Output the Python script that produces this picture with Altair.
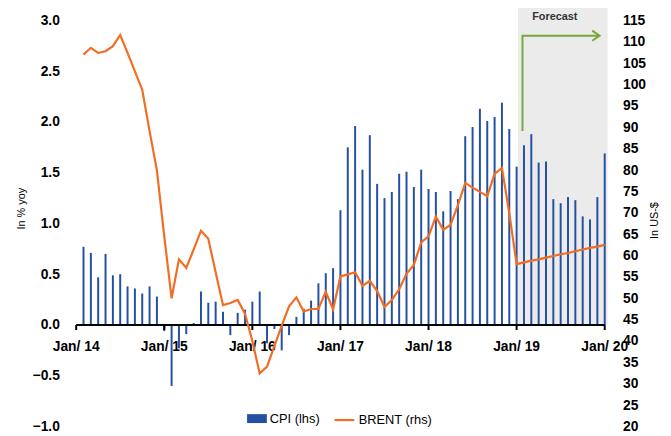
import altair as alt
import pandas as pd

# Months: Feb 2014 .. Jan 2020 (index 0 = Jan 2014)
months = [f"{y}-{m:02d}" for y in range(2014, 2021) for m in range(1, 13)]
months = months[1:73]

cpi = [0.77, 0.71, 0.47, 0.70, 0.49, 0.50, 0.38, 0.36, 0.31, 0.38, 0.28,
       -0.06, -0.60, -0.23, -0.09, 0.02, 0.33, 0.22, 0.23, 0.13, -0.10, 0.12, 0.15,
       0.23, 0.33, -0.18, -0.04, -0.25, -0.10, 0.08, 0.16, 0.24, 0.41, 0.51, 0.56,
       1.13, 1.75, 1.96, 1.53, 1.87, 1.39, 1.25, 1.31, 1.49, 1.51, 1.36, 1.53,
       1.34, 1.31, 1.12, 1.32, 1.24, 1.86, 1.95, 2.13, 2.01, 2.05, 2.19, 1.93,
       1.56, 1.77, 1.88, 1.60, 1.61, 1.24, 1.20, 1.26, 1.23, 1.07, 1.04, 1.26,
       1.69]

brent = [107.0, 108.6, 107.4, 107.8, 109.0, 111.6, 107.4, 103.1, 98.8, 89.1, 79.9,
         64.5, 50.0, 59.1, 57.1, 61.4, 65.8, 63.9, 56.1, 48.4, 48.9, 49.6, 46.4,
         40.0, 32.4, 34.0, 38.8, 43.6, 48.1, 50.2, 46.9, 47.5, 47.5, 51.5, 47.4,
         55.1, 55.6, 56.1, 52.9, 54.1, 51.7, 48.0, 49.6, 52.1, 55.7, 57.8, 63.1,
         64.5, 69.1, 66.0, 67.2, 71.8, 77.0, 75.9, 74.9, 73.9, 79.1, 80.5, 69.9,
         58.0, 58.4, 58.8, 59.1, 59.5, 59.9, 60.3, 60.6, 61.0, 61.4, 61.8, 62.1,
         62.5]

left_ticks = [-1.0, -0.5, 0.0, 0.5, 1.0, 1.5, 2.0, 2.5, 3.0]
right_ticks = list(range(20, 120, 5))
year_ticks = [0, 12, 24, 36, 48, 60, 72]
year_labels = ["Jan/ 14", "Jan/ 15", "Jan/ 16", "Jan/ 17", "Jan/ 18", "Jan/ 19", "Jan/ 20"]

BLUE = "#2450a4"
ORANGE = "#f26d21"
GREEN = "#78a83a"
FONT = "Liberation Sans"

def idx_of(m):
    y, mo = m.split("-")
    return (int(y) - 2014) * 12 + int(mo) - 1

df = pd.DataFrame({
    "month": months,
    "idx": [idx_of(m) for m in months],
    "cpi": cpi,
    "brent": brent,
    "cpi_s": "CPI (lhs)",
    "brent_s": "BRENT (rhs)",
})

W, H = 545, 411

xscale = alt.Scale(domain=[0, 72], nice=False, zero=False)
yleft_scale = alt.Scale(domain=[-1, 3], nice=False, zero=False)

# forecast shading
shade_df = pd.DataFrame({"x": [60.2], "x2": [72.4], "y": [3.15], "y2": [0.0]})
shade = alt.Chart(shade_df).mark_rect(color="#ebebeb").encode(
    x=alt.X("x:Q", scale=xscale, axis=None),
    x2="x2:Q",
    y=alt.Y("y:Q", scale=yleft_scale, axis=None),
    y2="y2:Q",
)

bars = alt.Chart(df).mark_bar(size=2).encode(
    x=alt.X("idx:Q", scale=xscale, axis=None),
    y=alt.Y("cpi:Q", scale=yleft_scale,
            axis=alt.Axis(orient="left", values=left_ticks, format=".1f", grid=False,
                          domain=False, ticks=False, labelPadding=12,
                          labelFontSize=14, labelFontWeight="bold",
                          labelColor="black",
                          title="In % yoy", titleFontSize=11,
                          titleFontWeight="normal", titleColor="black",
                          titleX=-45, titleY=190)),
    color=alt.Color("cpi_s:N",
                    scale=alt.Scale(domain=["CPI (lhs)"], range=[BLUE]),
                    legend=alt.Legend(orient="none", legendX=178, legendY=393,
                                      title=None, padding=0,
                                      symbolType="M-1,-0.45H1V0.45H-1Z",
                                      symbolSize=400, symbolStrokeWidth=0,
                                      labelFontSize=13, labelColor="black",
                                      labelFont=FONT, labelOffset=3)),
)

# x axis drawn at y = 0 (line, downward ticks, labels)
axis_line_df = pd.DataFrame({"x": [0], "x2": [72], "y": [0.0]})
axis_line = alt.Chart(axis_line_df).mark_rule(color="black", strokeWidth=2).encode(
    x=alt.X("x:Q", scale=xscale, axis=None),
    x2="x2:Q",
    y=alt.Y("y:Q", scale=yleft_scale, axis=None),
)
ticks_df = pd.DataFrame({"x": year_ticks, "lab": year_labels})
axis_ticks = alt.Chart(ticks_df).mark_rule(color="black", strokeWidth=2).encode(
    x=alt.X("x:Q", scale=xscale, axis=None),
    y=alt.Y(datum=0.0, scale=yleft_scale, axis=None),
    y2=alt.Y2(datum=-0.05),
)
axis_labels = alt.Chart(ticks_df).mark_text(
    fontSize=14, fontWeight="bold", color="black", font=FONT,
    baseline="alphabetic", align="center", dy=26).encode(
    x=alt.X("x:Q", scale=xscale, axis=None),
    y=alt.Y(datum=0.0, scale=yleft_scale, axis=None),
    text="lab:N",
)

# forecast arrow
arrow_df = pd.DataFrame({
    "seg": ["a", "a", "a", "h", "h", "h"],
    "o": [0, 1, 2, 0, 1, 2],
    "x": [60.8, 60.8, 71.2, 70.3, 71.3, 70.3],
    "y": [1.91, 2.85, 2.85, 2.90, 2.85, 2.80],
})
arrow = alt.Chart(arrow_df).mark_line(color=GREEN, strokeWidth=2,
                                      strokeCap="butt", strokeJoin="miter").encode(
    x=alt.X("x:Q", scale=xscale, axis=None),
    y=alt.Y("y:Q", scale=yleft_scale, axis=None),
    detail="seg:N",
    order="o:Q",
)

label_df = pd.DataFrame({"x": [65.2], "t": ["Forecast"]})
label = alt.Chart(label_df).mark_text(fontSize=11, fontWeight="bold",
                                      color="#333333", font=FONT).encode(
    x=alt.X("x:Q", scale=xscale, axis=None),
    y=alt.value(-3),
    text="t:N",
)

line = alt.Chart(df).mark_line(strokeWidth=2.2).encode(
    x=alt.X("idx:Q", scale=xscale, axis=None),
    y=alt.Y("brent:Q",
            scale=alt.Scale(domain=[20, 115], nice=False, zero=False),
            axis=alt.Axis(orient="right", values=right_ticks, grid=False,
                          domain=False, ticks=False, labelPadding=13,
                          labelFontSize=14, labelFontWeight="bold",
                          labelColor="black",
                          title="In US-$", titleFontSize=11,
                          titleFontWeight="normal", titleColor="black",
                          titleAngle=270, titleBaseline="middle",
                          titleX=45, titleY=202)),
    stroke=alt.Stroke("brent_s:N",
                      scale=alt.Scale(domain=["BRENT (rhs)"], range=[ORANGE]),
                      legend=alt.Legend(orient="none", legendX=265, legendY=393,
                                        title=None, padding=0,
                                        symbolType="stroke", symbolSize=400,
                                        symbolStrokeWidth=2.2,
                                        labelFontSize=13, labelColor="black",
                                        labelFont=FONT, labelOffset=3)),
)

chart = alt.layer(shade, bars, axis_line, axis_ticks, axis_labels,
                  arrow, label, line).resolve_scale(
    y="independent"
).properties(
    width=W, height=H,
    autosize=alt.AutoSizeParams(type="none"),
    padding={"left": 64, "top": 10, "right": 54, "bottom": 7},
).configure(font=FONT).configure_view(stroke=None)

chart.save("out.html", embed_options={"renderer": "svg", "actions": False})
